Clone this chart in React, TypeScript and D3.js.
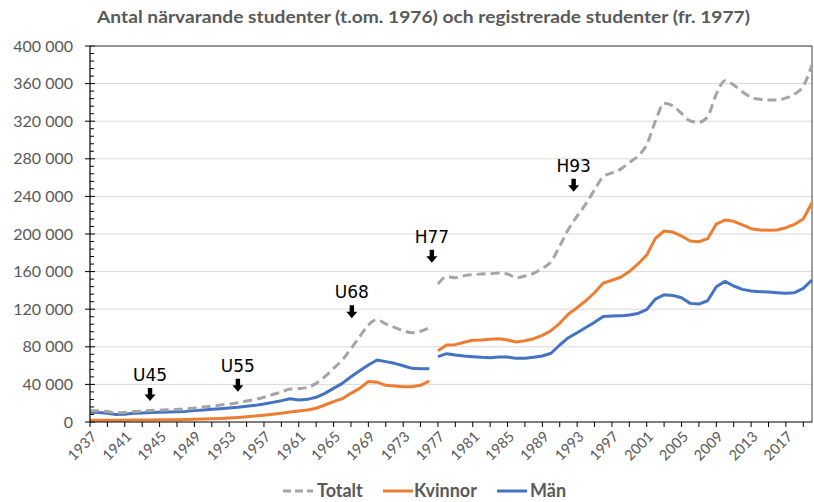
import React from "react";
import * as d3 from "d3";

// years split at the 1976/1977 break (närvarande -> registrerade)
const yearsEarly = d3.range(1937, 1977);
const yearsLate = d3.range(1977, 2021);

const totaltEarly = [
  12100, 11900, 11100, 9800, 10100, 11200, 11700, 12200, 12600, 13100,
  13400, 13900, 14900, 15900, 16900, 18000, 19200, 20500, 22300, 24100,
  26400, 29200, 32000, 35000, 35500, 36900, 41100, 48200, 57000, 66000,
  78000, 90700, 103200, 109000, 104300, 100700, 97200, 95000, 96500, 100300,
];
const manEarly = [
  10300, 10100, 9200, 7900, 8200, 9200, 9600, 10000, 10300, 10700,
  10900, 11300, 12100, 12800, 13500, 14200, 14900, 15600, 16700, 17700,
  19100, 20900, 22700, 24800, 23500, 24100, 26300, 30500, 35800, 41100,
  48200, 54600, 60600, 66000, 64200, 62400, 59900, 57100, 56700, 56700,
];
const kvinnorEarly = [
  1800, 1800, 1900, 1900, 1900, 2000, 2100, 2200, 2300, 2400,
  2500, 2600, 2800, 3100, 3400, 3800, 4300, 4900, 5600, 6400,
  7300, 8300, 9300, 10600, 11700, 12800, 14600, 18100, 21600, 24800,
  30500, 35800, 43100, 42400, 39000, 38300, 37600, 37600, 39000, 43600,
];

const totaltLate = [
  146800, 154600, 153500, 155700, 156700, 157400, 157800, 158500, 157500, 153500,
  155300, 158200, 163500, 170500, 187200, 205000, 219000, 232000, 247000, 261000,
  265000, 269000, 276000, 283000, 295000, 320000, 339000, 336200, 328400, 320200,
  318800, 324800, 348900, 363100, 358500, 351400, 345400, 343300, 342500, 342500,
  344700, 348900, 357400, 379800,
];
const kvinnorLate = [
  75900, 81900, 82300, 84800, 86900, 87200, 88000, 88600, 87200, 85100,
  86500, 88600, 92200, 97100, 105000, 114900, 121600, 129000, 137500, 147800,
  150800, 154000, 160000, 168100, 177700, 195400, 203200, 202100, 197900, 192500,
  191800, 195000, 210600, 214900, 213500, 209600, 205600, 204200, 203900, 204200,
  206700, 210300, 216000, 233300,
];
const manLate = [
  69500, 72700, 71300, 70200, 69500, 68800, 68400, 69100, 69100, 67700,
  67700, 68800, 70200, 73100, 81900, 89700, 95000, 100500, 106000, 112300,
  112700, 112900, 113800, 115500, 119500, 130800, 135400, 134700, 132200, 126200,
  125500, 129000, 143900, 149600, 144700, 141100, 139400, 138600, 138300, 137600,
  136900, 137600, 142200, 151100,
];

const yTicks = d3.range(0, 400001, 40000);
const xLabelYears = d3.range(1937, 2020, 4);

// reform markers: label, year, value at arrow tip
const reformLabels = ["U45", "U55", "U68", "H77", "H93"];
const reformYears = [1943.9, 1954, 1967.1, 1976.3, 1992.6];
const reformValues = [22300, 32200, 110300, 169500, 245000];

const seriesNames = ["Totalt", "Kvinnor", "Män"];
const colors = { Totalt: "#A5A5A5", Kvinnor: "#ED7D31", Män: "#4472C4" };

const W = 814;
const H = 502;
const left = 90;
const right = 812;
const top = 46;
const bottom = 422;

const fmt = d3.formatLocale({ decimal: ",", thousands: " ", grouping: [3], currency: ["", ""] }).format(",d");
const font = "Lato, 'Open Sans', sans-serif";
const textColor = "#595959";

export default function App() {
  const x = d3.scaleLinear().domain([1937, 2020]).range([left, right]);
  const y = d3.scaleLinear().domain([0, 400000]).range([bottom, top]);

  const straight = d3
    .line<[number, number]>()
    .x((d) => x(d[0]))
    .y((d) => y(d[1]));
  const smooth = d3
    .line<[number, number]>()
    .x((d) => x(d[0]))
    .y((d) => y(d[1]))
    .curve(d3.curveMonotoneX);

  const pairs = (ys: number[], vs: number[]) => ys.map((yr, i) => [yr, vs[i]] as [number, number]);

  const segments = [
    { name: "Män", data: [pairs(yearsEarly, manEarly), pairs(yearsLate, manLate)] },
    { name: "Kvinnor", data: [pairs(yearsEarly, kvinnorEarly), pairs(yearsLate, kvinnorLate)] },
    { name: "Totalt", data: [pairs(yearsEarly, totaltEarly), pairs(yearsLate, totaltLate)] },
  ];

  const minorTicks = d3.range(0, 400001, 8000).filter((v) => v % 40000 !== 0);
  const xTicks = d3.range(1937, 2021, 2);

  const legendX = [283, 383, 497];
  const legendTextX = [317, 414, 530];

  return (
    <svg width={W} height={H} style={{ position: "absolute", left: 0, top: 0 }} fontFamily={font}>
      <rect width={W} height={H} fill="#fff" />
      <text
        x={97}
        y={23}
        fontSize={17}
        fontWeight="bold"
        fill={textColor}
        textLength={653}
        lengthAdjust="spacingAndGlyphs"
      >
        Antal närvarande studenter (t.om. 1976) och registrerade studenter (fr. 1977)
      </text>

      {yTicks.map((v) => (
        <g key={v}>
          {v > 0 && <line x1={left} x2={right} y1={y(v)} y2={y(v)} stroke="#D9D9D9" strokeWidth={1} />}
          <line x1={left - 5} x2={left + 5} y1={y(v)} y2={y(v)} stroke="#000" strokeWidth={1} />
          <text x={73} y={y(v)} dy="0.35em" textAnchor="end" fontSize={16} fill={textColor}>
            {fmt(v)}
          </text>
        </g>
      ))}
      {minorTicks.map((v) => (
        <line key={v} x1={left} x2={left + 4} y1={y(v)} y2={y(v)} stroke="#000" strokeWidth={1} />
      ))}

      <line x1={left} x2={right} y1={top} y2={top} stroke="#404040" strokeWidth={1} />
      <line x1={right} x2={right} y1={top} y2={bottom} stroke="#404040" strokeWidth={1} />

      {segments.map((s) =>
        s.data.map((d, i) => (
          <path
            key={s.name + i}
            d={(s.name === "Totalt" ? smooth : straight)(d) || ""}
            fill="none"
            stroke={colors[s.name as keyof typeof colors]}
            strokeWidth={3}
            strokeDasharray={s.name === "Totalt" ? "9,5" : undefined}
            strokeLinejoin="round"
          />
        ))
      )}

      <line x1={left} x2={left} y1={top} y2={bottom} stroke="#000" strokeWidth={1.2} />
      <line x1={left} x2={right} y1={bottom} y2={bottom} stroke="#000" strokeWidth={1.2} />
      {xTicks.map((yr) => (
        <line key={yr} x1={x(yr)} x2={x(yr)} y1={bottom} y2={bottom + 5} stroke="#000" strokeWidth={1} />
      ))}
      {xLabelYears.map((yr) => (
        <text
          key={yr}
          transform={`translate(${x(yr) + 4},${bottom + 12}) rotate(-45)`}
          textAnchor="end"
          dy="0.35em"
          fontSize={14.5}
          fill={textColor}
        >
          {yr}
        </text>
      ))}

      {reformLabels.map((lab, i) => {
        const cx = x(reformYears[i]);
        const tip = y(reformValues[i]);
        return (
          <g key={lab}>
            <text x={cx} y={tip - 20} textAnchor="middle" fontSize={17} fill="#000" fontFamily="'DejaVu Sans', sans-serif">
              {lab}
            </text>
            <path
              d={`M${cx - 2.2},${tip - 13} L${cx + 2.2},${tip - 13} L${cx + 2.2},${tip - 6.5} L${cx + 5.5},${tip - 6.5} L${cx},${tip} L${cx - 5.5},${tip - 6.5} L${cx - 2.2},${tip - 6.5} Z`}
              fill="#000"
            />
          </g>
        );
      })}

      {seriesNames.map((n, i) => (
        <g key={n}>
          <line
            x1={legendX[i]}
            x2={legendX[i] + 30}
            y1={491}
            y2={491}
            stroke={colors[n as keyof typeof colors]}
            strokeWidth={3}
            strokeDasharray={n === "Totalt" ? "8,4" : undefined}
          />
          <text x={legendTextX[i]} y={491} dy="0.35em" fontSize={18} fontWeight="bold" fill={textColor}>
            {n}
          </text>
        </g>
      ))}
    </svg>
  );
}
